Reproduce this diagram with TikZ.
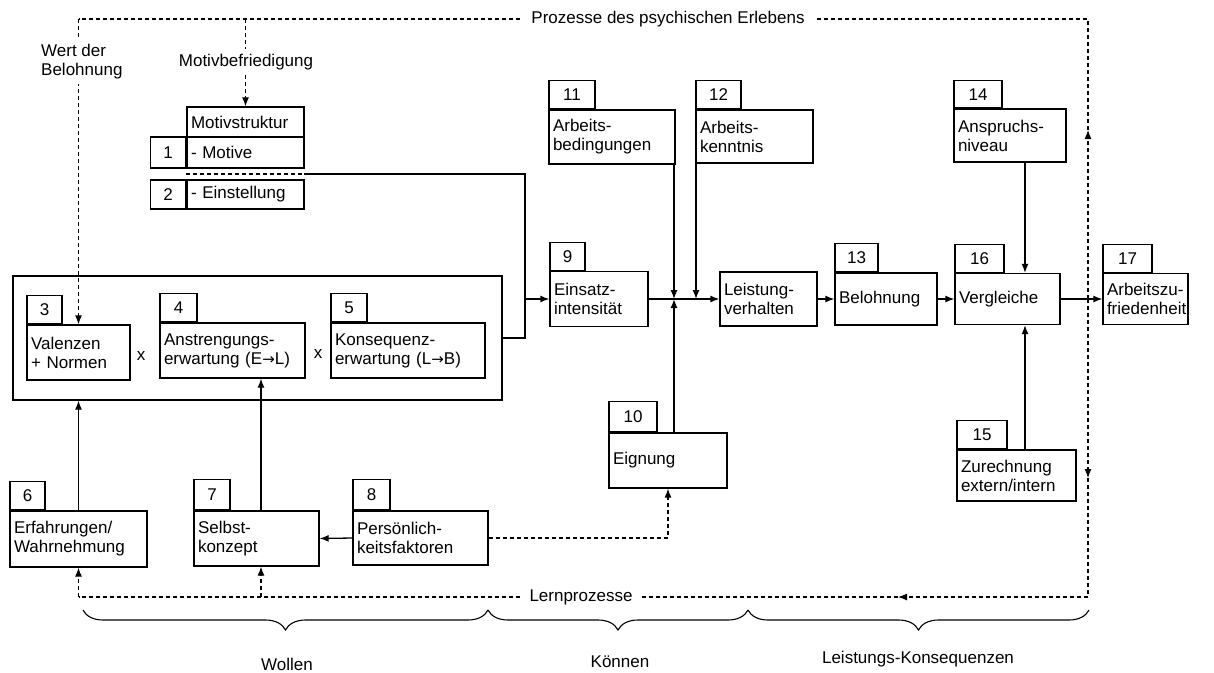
\documentclass[tikz,border=0pt]{standalone}
\usepackage{fontspec}
\setmainfont{Liberation Sans}
\newfontfamily\arrowfont{DejaVu Sans}
\usetikzlibrary{arrows.meta,decorations.pathreplacing}

\newcommand{\pfeil}{{\arrowfont\fontsize{15pt}{19pt}\selectfont →}}

\tikzset{
  box/.style 2 args={draw, line width=1.3pt, text width=#1, minimum height=#2,
    align=left, inner xsep=4pt, inner ysep=2pt},
  numbox/.style 2 args={draw, line width=1.3pt, minimum width=#1, minimum height=#2,
    inner sep=0pt, anchor=south west},
  conn/.style={line width=1.3pt},
  fbline/.style={line width=1.1pt, dash pattern=on 4pt off 3pt},
  arr/.style={-{Latex[length=9pt,width=7pt]}},
  lbl/.style={fill=white, inner sep=5pt},
  brace/.style={decorate, line width=1.1pt, decoration={brace, mirror, amplitude=20pt}},
}

\begin{document}
\begin{tikzpicture}[x=1pt, y=-1pt, font=\fontsize{17pt}{19pt}\selectfont]
    \useasboundingbox (0,0) rectangle (1214,672);

    % Motivstruktur
    \node[box={109pt}{30pt}] (mhead) at (245.5,122) {Motivstruktur};
    \node[box={109pt}{31pt}] (mrow1) at (245.5,152.5) {- Motive};
    \node[numbox={35pt}{31pt}, anchor=east] (t1) at (mrow1.west) {1};
    \node[box={109pt}{29pt}] (mrow2) at (245.5,194.5) {- Einstellung};
    \node[numbox={35pt}{29pt}, anchor=east] (t2) at (mrow2.west) {2};

    % Erwartung x Valenz
    \node[draw, line width=1.3pt, minimum width=489pt, minimum height=124pt] (outer) at (257.5,338) {};
    \node[box={95pt}{55pt}] (b3) at (78.5,352.5) {Valenzen\\+ Normen};
    \node[numbox={35pt}{28pt}] (n3) at (b3.north west) {3};
    \node[box={137pt}{55pt}] (b4) at (232.5,350.5) {Anstrengungs-\\erwartung (E\pfeil L)};
    \node[numbox={37pt}{28pt}] (n4) at (b4.north west) {4};
    \node[box={146pt}{55pt}] (b5) at (408,350.5) {Konsequenz-\\erwartung (L\pfeil B)};
    \node[numbox={36pt}{28pt}] (n5) at (b5.north west) {5};
    \node (x1) at (141,356) {x};
    \node (x2) at (318,354) {x};

    % untere Reihe
    \node[box={129pt}{56pt}] (b6) at (78.5,539) {Erfahrungen/\\Wahrnehmung};
    \node[numbox={35pt}{28pt}] (n6) at (b6.north west) {6};
    \node[box={117pt}{55pt}] (b7) at (256.5,538.5) {Selbst-\\konzept};
    \node[numbox={36pt}{30pt}] (n7) at (b7.north west) {7};
    \node[box={127pt}{54pt}] (b8) at (420.5,538) {Persönlich-\\keitsfaktoren};
    \node[numbox={37pt}{30pt}] (n8) at (b8.north west) {8};

    % Leistung
    \node[box={90pt}{55pt}] (b9) at (599,299) {Einsatz-\\intensität};
    \node[numbox={35pt}{28pt}] (n9) at (b9.north west) {9};
    \node[box={110pt}{55pt}] (b10) at (668,460.5) {Eignung};
    \node[numbox={48pt}{30pt}] (n10) at (b10.north west) {10};
    \node[box={118pt}{54pt}] (b11) at (612,137) {Arbeits-\\bedingungen};
    \node[numbox={46pt}{28pt}] (n11) at (b11.north west) {11};
    \node[box={109pt}{53pt}] (b12) at (754.5,136.5) {Arbeits-\\kenntnis};
    \node[numbox={45pt}{28pt}] (n12) at (b12.north west) {12};
    \node[box={89pt}{54pt}] (lv) at (768.5,299) {Leistung-\\verhalten};

    % Konsequenzen
    \node[box={94pt}{52pt}] (b13) at (886,299) {Belohnung};
    \node[numbox={43pt}{28pt}] (n13) at (b13.north west) {13};
    \node[box={104pt}{53pt}] (b14) at (1010,135.5) {Anspruchs-\\niveau};
    \node[numbox={48pt}{27pt}] (n14) at (b14.north west) {14};
    \node[box={111pt}{51pt}] (b15) at (1016.5,475.5) {Zurechnung\\extern/intern};
    \node[numbox={50pt}{28pt}] (n15) at (b15.north west) {15};
    \node[box={97pt}{51pt}] (b16) at (1007.5,299) {Vergleiche};
    \node[numbox={49pt}{28pt}] (n16) at (b16.north west) {16};
    \node[box={77pt}{51pt}] (b17) at (1145.5,299) {Arbeitszu-\\friedenheit};
    \node[numbox={49pt}{28pt}] (n17) at (b17.north west) {17};

    % Motivation -> Einsatz
    \coordinate (m12) at (304,174);
    \coordinate (k1) at (525,174);
    \coordinate (k2) at (525,338);
    \draw[fbline] (mrow1.south west |- m12) -- (m12);
    \draw[conn] (m12) -- (k1) -- (k2) -- (outer.east);
    \draw[conn, arr] (k1 |- b9.west) -- (b9.west);

    % Eingangsgroessen
    \coordinate (c7) at (261,597);
    \draw[conn, arr] (b6.north) -- (b6.north |- outer.south);
    \draw[conn, arr] (c7 |- b7.north) -- (c7 |- b4.south);
    \draw[conn, arr] (b8.west) -- (b7.east);
    \draw[fbline, arr] (b8.east) -| (b10.south);

    % Leistungsverhalten
    \coordinate (j1) at (674,299);
    \coordinate (j2) at (696,299);
    \draw[conn, arr] (b9.east) -- (lv.west);
    \draw[conn, arr] (b11.south -| j1) -- (j1);
    \draw[conn, arr] (b12.south -| j2) -- (j2);
    \draw[conn, arr] (b10.north -| j1) -- (j1);
    \draw[conn, arr] (lv.east) -- (b13.west);
    \draw[conn, arr] (b13.east) -- (b16.west);

    % Vergleich
    \coordinate (vx) at (1025,0);
    \draw[conn, arr] (b14.south -| vx) -- (b16.north -| vx);
    \draw[conn, arr] (b15.north -| vx) -- (b16.south -| vx);
    \draw[conn, arr] (b16.east) -- (b17.west);

    % Rueckkopplung
    \coordinate (fb) at (1088,299);
    \coordinate (ru) at (1088,130);
    \coordinate (tr) at (1088,19);
    \coordinate (tl) at (78.5,19);
    \coordinate (tm) at (245.5,19);
    \coordinate (rd) at (1088,478);
    \coordinate (br) at (1088,597);
    \coordinate (bm) at (898,597);
    \coordinate (bl) at (78.5,597);
    \draw[fbline, arr] (fb) -- (ru);
    \draw[fbline] (ru) -- (tr) -- (tl);
    \draw[fbline, arr] (tl) -- (b3.north);
    \draw[fbline, arr] (tm) -- (mhead.north);
    \draw[fbline, arr] (fb) -- (rd);
    \draw[fbline] (rd) -- (br);
    \draw[fbline, arr] (br) -- (bm);
    \draw[fbline] (bm) -- (bl);
    \draw[fbline, arr] (bl) -- (b6.south);
    \draw[fbline, arr] (c7) -- (c7 |- b7.south);

    % Beschriftungen
    \node[lbl, inner xsep=10pt] (pe) at (668,19) {Prozesse des psychischen Erlebens};
    \node[lbl, align=left, anchor=west] (wb) at (36,62) {Wert der\\Belohnung};
    \node[lbl] (mb) at (246,62) {Motivbefriedigung};
    \node[lbl, inner xsep=8pt] (lp) at (581,597) {Lernprozesse};

    % Klammern
    \draw[brace] (83,610) -- (488,610);
    \draw[brace] (488,610) -- (748,610);
    \draw[brace] (748,610) -- (1089,610);
    \node (wo) at (287,664) {Wollen};
    \node (ko) at (620,662) {Können};
    \node (lk) at (918,659) {Leistungs-Konsequenzen};
\end{tikzpicture}
\end{document}
